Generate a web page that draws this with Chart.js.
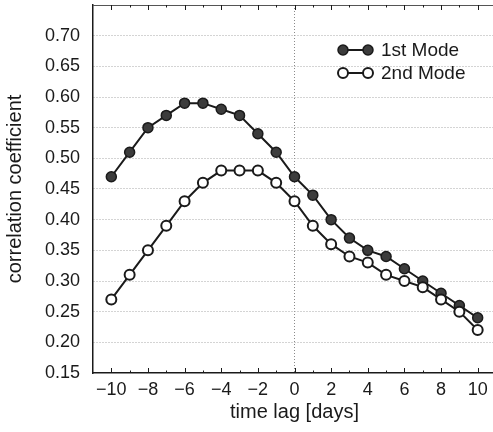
<!DOCTYPE html>
<html>
<head>
<meta charset="utf-8">
<script src="https://cdn.jsdelivr.net/npm/chart.js@4.4.0/dist/chart.umd.min.js"></script>
<style>
  html, body { margin: 0; padding: 0; background: #fff; overflow: hidden; }
  #wrap { width: 496px; height: 432px; }
</style>
</head>
<body>
<div id="wrap"><canvas id="lagChart" width="496" height="432"></canvas></div>
<script>
  // time lag in days
  const lags = [-10, -9, -8, -7, -6, -5, -4, -3, -2, -1, 0, 1, 2, 3, 4, 5, 6, 7, 8, 9, 10];
  const mode1 = [0.47, 0.51, 0.55, 0.57, 0.59, 0.59, 0.58, 0.57, 0.54, 0.51, 0.47, 0.44, 0.40, 0.37, 0.35, 0.34, 0.32, 0.30, 0.28, 0.26, 0.24];
  const mode2 = [0.27, 0.31, 0.35, 0.39, 0.43, 0.46, 0.48, 0.48, 0.48, 0.46, 0.43, 0.39, 0.36, 0.34, 0.33, 0.31, 0.30, 0.29, 0.27, 0.25, 0.22];
  const xTickLabels = [-10, -8, -6, -4, -2, 0, 2, 4, 6, 8, 10];
  const yTickLabels = [0.15, 0.20, 0.25, 0.30, 0.35, 0.40, 0.45, 0.50, 0.55, 0.60, 0.65, 0.70];
  const seriesNames = ['1st Mode', '2nd Mode'];

  const FONT = '"Liberation Sans", Arial, Helvetica, sans-serif';
  const INK = '#1a1a1a';

  // inward tick marks, top border and the inset legend
  const framePlugin = {
    id: 'frame',
    afterDraw(chart) {
      const ctx = chart.ctx;
      const area = chart.chartArea;
      const x = chart.scales.x;
      ctx.save();
      ctx.strokeStyle = '#555';
      ctx.lineWidth = 1;
      ctx.beginPath();
      ctx.moveTo(area.left, area.top + 0.5);
      ctx.lineTo(area.right, area.top + 0.5);
      ctx.stroke();
      ctx.strokeStyle = INK;
      ctx.beginPath();
      for (let v = -10; v <= 10; v++) {
        const px = Math.round(x.getPixelForValue(v)) + 0.5;
        const len = v % 2 === 0 ? 5 : 2.5;
        ctx.moveTo(px, area.bottom);
        ctx.lineTo(px, area.bottom - len);
        ctx.moveTo(px, area.top);
        ctx.lineTo(px, area.top + len);
      }
      ctx.stroke();

      // legend
      const ds = chart.data.datasets;
      const rows = [50, 73];
      ds.forEach((d, i) => {
        const y = rows[i];
        ctx.strokeStyle = INK;
        ctx.lineWidth = 2;
        ctx.beginPath();
        ctx.moveTo(343, y);
        ctx.lineTo(368, y);
        ctx.stroke();
        [343, 368].forEach(cx => {
          ctx.beginPath();
          ctx.arc(cx, y, 5, 0, Math.PI * 2);
          ctx.fillStyle = d.pointBackgroundColor;
          ctx.fill();
          ctx.lineWidth = d.pointBorderWidth;
          ctx.strokeStyle = d.pointBorderColor;
          ctx.stroke();
        });
        ctx.fillStyle = INK;
        ctx.font = '19px ' + FONT;
        ctx.textBaseline = 'middle';
        ctx.textAlign = 'left';
        ctx.fillText(d.label, 381, y + 1);
      });
      ctx.restore();
    }
  };

  document.addEventListener('DOMContentLoaded', function () {
    const ctx = document.getElementById('lagChart').getContext('2d');
    new Chart(ctx, {
      type: 'line',
      data: {
        datasets: [
          {
            label: seriesNames[0],
            data: lags.map((l, i) => ({ x: l, y: mode1[i] })),
            borderColor: INK,
            borderWidth: 2,
            pointRadius: 5,
            pointBackgroundColor: '#3c3c3c',
            pointBorderColor: INK,
            pointBorderWidth: 1.5,
            order: 2
          },
          {
            label: seriesNames[1],
            data: lags.map((l, i) => ({ x: l, y: mode2[i] })),
            borderColor: INK,
            borderWidth: 2,
            pointRadius: 5,
            pointBackgroundColor: '#ffffff',
            pointBorderColor: INK,
            pointBorderWidth: 2,
            order: 1
          }
        ]
      },
      options: {
        responsive: false,
        animation: false,
        layout: { autoPadding: false, padding: { top: 5, right: 0, left: 0, bottom: 0 } },
        plugins: { legend: { display: false }, tooltip: { enabled: false } },
        scales: {
          x: {
            type: 'linear',
            min: -11,
            max: 11,
            afterFit: s => { s.height = 59; s.paddingLeft = 0; s.paddingRight = 0; },
            afterBuildTicks: s => {
              s.ticks = [];
              for (let v = -11; v <= 11; v++) s.ticks.push({ value: v });
            },
            ticks: {
              autoSkip: false,
              maxRotation: 0,
              padding: 6,
              color: INK,
              font: { family: FONT, size: 18 },
              callback: v => xTickLabels.includes(v) ? (v < 0 ? '\u2212' + Math.abs(v) : String(v)) : ''
            },
            grid: {
              drawTicks: false,
              lineWidth: 1,
              color: c => (c.tick && c.tick.value === 0) ? '#8a8a8a' : 'rgba(0,0,0,0)'
            },
            border: { display: true, color: INK, width: 1.5, dash: [1, 2] },
            title: {
              display: true,
              text: 'time lag [days]',
              color: INK,
              font: { family: FONT, size: 20 },
              padding: { top: 0, bottom: 8 }
            }
          },
          y: {
            min: 0.15,
            max: 0.75,
            afterFit: s => { s.width = 93; s.paddingTop = 0; s.paddingBottom = 0; },
            afterBuildTicks: s => {
              s.ticks = yTickLabels.map(v => ({ value: v })).concat([{ value: 0.75 }]);
            },
            ticks: {
              padding: 13,
              color: INK,
              font: { family: FONT, size: 18 },
              callback: v => yTickLabels.some(t => Math.abs(t - v) < 1e-6) ? v.toFixed(2) : ''
            },
            grid: {
              drawTicks: false,
              lineWidth: 1,
              color: c => (c.tick && c.tick.value > 0.16 && c.tick.value < 0.74) ? '#a8a8a8' : 'rgba(0,0,0,0)'
            },
            border: { display: true, color: INK, width: 1.5, dash: [1, 2] },
            title: {
              display: true,
              text: 'correlation coefficient',
              color: INK,
              font: { family: FONT, size: 20 },
              padding: { top: 3, bottom: 0 }
            }
          }
        }
      },
      plugins: [framePlugin]
    });
  });
</script>
</body>
</html>
